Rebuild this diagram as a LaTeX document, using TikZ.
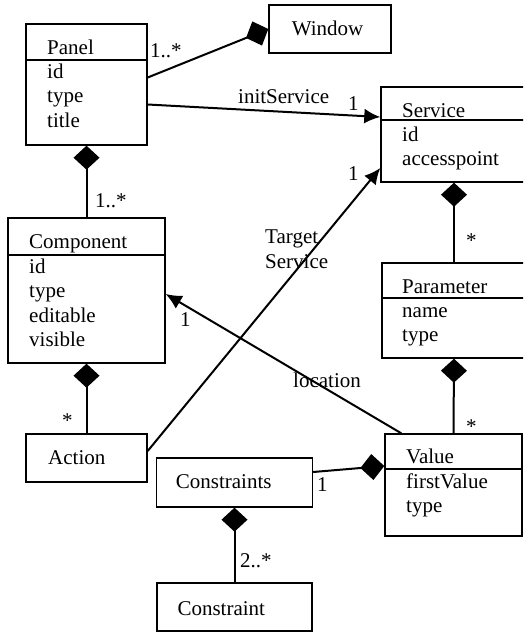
\documentclass[tikz,border=0pt]{standalone}
\usepackage{fontspec}
\setmainfont{Liberation Serif}
\usetikzlibrary{arrows.meta}

\tikzset{
  cls/.style={draw, line width=1.4pt, inner sep=0pt},
  txt/.style={inner sep=0pt, font=\fontsize{21}{24.5}\selectfont},
  comp/.style={line width=2pt, {Diamond[length=24pt, width=26pt]}-},
  nav/.style={line width=2pt, -{Latex[length=16pt, width=15pt]}}
}

\begin{document}
\begin{tikzpicture}[x=1pt, y=-1pt]
    \clip (0,0) rectangle (523,632);

    % Klasser
    \node[cls, minimum width=121, minimum height=121] (panel) at (86.5,84.5) {};
    \draw[line width=1.4pt] (panel.west |- 0,60) -- (panel.east |- 0,60);
    \node[txt, anchor=base west] (panelname) at (47,54.5) {Panel};
    \node[txt, anchor=base west] (panelid) at (47,78) {id};
    \node[txt, anchor=base west] (paneltype) at (47,102.5) {type};
    \node[txt, anchor=base west] (paneltitle) at (47,127) {title};

    \node[cls, minimum width=122, minimum height=48] (window) at (330,29) {};
    \node[txt, anchor=base west] (windowname) at (291.7,35) {Window};

    \node[cls, minimum width=146, minimum height=95] (service) at (454,134.5) {};
    \draw[line width=1.4pt] (service.west |- 0,120) -- (service.east |- 0,120);
    \node[txt, anchor=base west] (servicename) at (402,117) {Service};
    \node[txt, anchor=base west] (serviceid) at (402,141) {id};
    \node[txt, anchor=base west] (serviceap) at (402,165.5) {accesspoint};

    \node[cls, minimum width=157, minimum height=145] (component) at (86.5,290.5) {};
    \draw[line width=1.4pt] (component.west |- 0,255) -- (component.east |- 0,255);
    \node[txt, anchor=base west] (compname) at (29,248) {Component};
    \node[txt, anchor=base west] (compid) at (29,273) {id};
    \node[txt, anchor=base west] (comptype) at (29,297.5) {type};
    \node[txt, anchor=base west] (compedit) at (29,322) {editable};
    \node[txt, anchor=base west] (compvis) at (29,346.5) {visible};

    \node[cls, minimum width=144, minimum height=95] (parameter) at (454,310.5) {};
    \draw[line width=1.4pt] (parameter.west |- 0,298) -- (parameter.east |- 0,298);
    \node[txt, anchor=base west] (paramname) at (402,293) {Parameter};
    \node[txt, anchor=base west] (paramnm) at (402,317) {name};
    \node[txt, anchor=base west] (paramtype) at (402,341.5) {type};

    \node[cls, minimum width=121, minimum height=48] (action) at (86.5,458) {};
    \node[txt, anchor=base west] (actionname) at (48,464) {Action};

    \node[cls, minimum width=137, minimum height=102] (value) at (453.5,485) {};
    \draw[line width=1.4pt] (value.west |- 0,469) -- (value.east |- 0,469);
    \node[txt, anchor=base west] (valuename) at (406,463) {Value};
    \node[txt, anchor=base west] (valuefirst) at (406,488) {firstValue};
    \node[txt, anchor=base west] (valuetype) at (406,512.5) {type};

    \node[cls, minimum width=156, minimum height=49] (constraints) at (234.5,482.5) {};
    \node[txt, anchor=base west] (constraintsname) at (175.7,488) {Constraints};

    \node[cls, minimum width=155, minimum height=48] (constraint) at (234.5,607) {};
    \node[txt, anchor=base west] (constraintname) at (177.3,615) {Constraint};

    % Komposisjon
    \draw[comp] (window.west) -- ([yshift=7pt]panel.east);
    \draw[comp] (panel.south) -- (component.north);
    \draw[comp] (component.south) -- (action.north);
    \draw[comp] (service.south) -- (parameter.north);
    \draw[comp] (parameter.south) -- (value.north);
    \draw[comp] ([yshift=19pt]value.west) -- ([yshift=10.5pt]constraints.east);
    \draw[comp] (constraints.south) -- (constraint.north);

    % Assosiasjoner
    \draw[nav] ([yshift=-20pt]panel.east) -- ([yshift=17.5pt]service.west);
    \draw[nav] ([yshift=7pt]action.east) -- ([yshift=-33.5pt]service.west);
    \draw[nav] ([xshift=17pt]value.north west) -- ([yshift=-3.5pt]component.east);

    % Multiplisitet og roller
    \node[txt, anchor=base west] (mwindow) at (150,57) {1..*};
    \node[txt, anchor=base west] (linit) at (238,103) {initService};
    \node[txt, anchor=base west] (minit) at (348,110) {1};
    \node[txt, anchor=base west] (mcomp) at (95,207) {1..*};
    \node[txt, anchor=base west] (mtarget) at (348,180) {1};
    \node[txt, anchor=base west] (mparam) at (466,247.5) {*};
    \node[txt, anchor=base west] (ltarget) at (265,243) {Target};
    \node[txt, anchor=base west] (ltargetb) at (265,268) {Service};
    \node[txt, anchor=base west] (mloc) at (180,326) {1};
    \node[txt, anchor=base west] (lloc) at (293,387) {location};
    \node[txt, anchor=base west] (maction) at (62,427) {*};
    \node[txt, anchor=base west] (mvalue) at (466,433) {*};
    \node[txt, anchor=base west] (mconstr) at (317,491) {1};
    \node[txt, anchor=base west] (mconstrb) at (240,567) {2..*};
  \end{tikzpicture}
\end{document}
